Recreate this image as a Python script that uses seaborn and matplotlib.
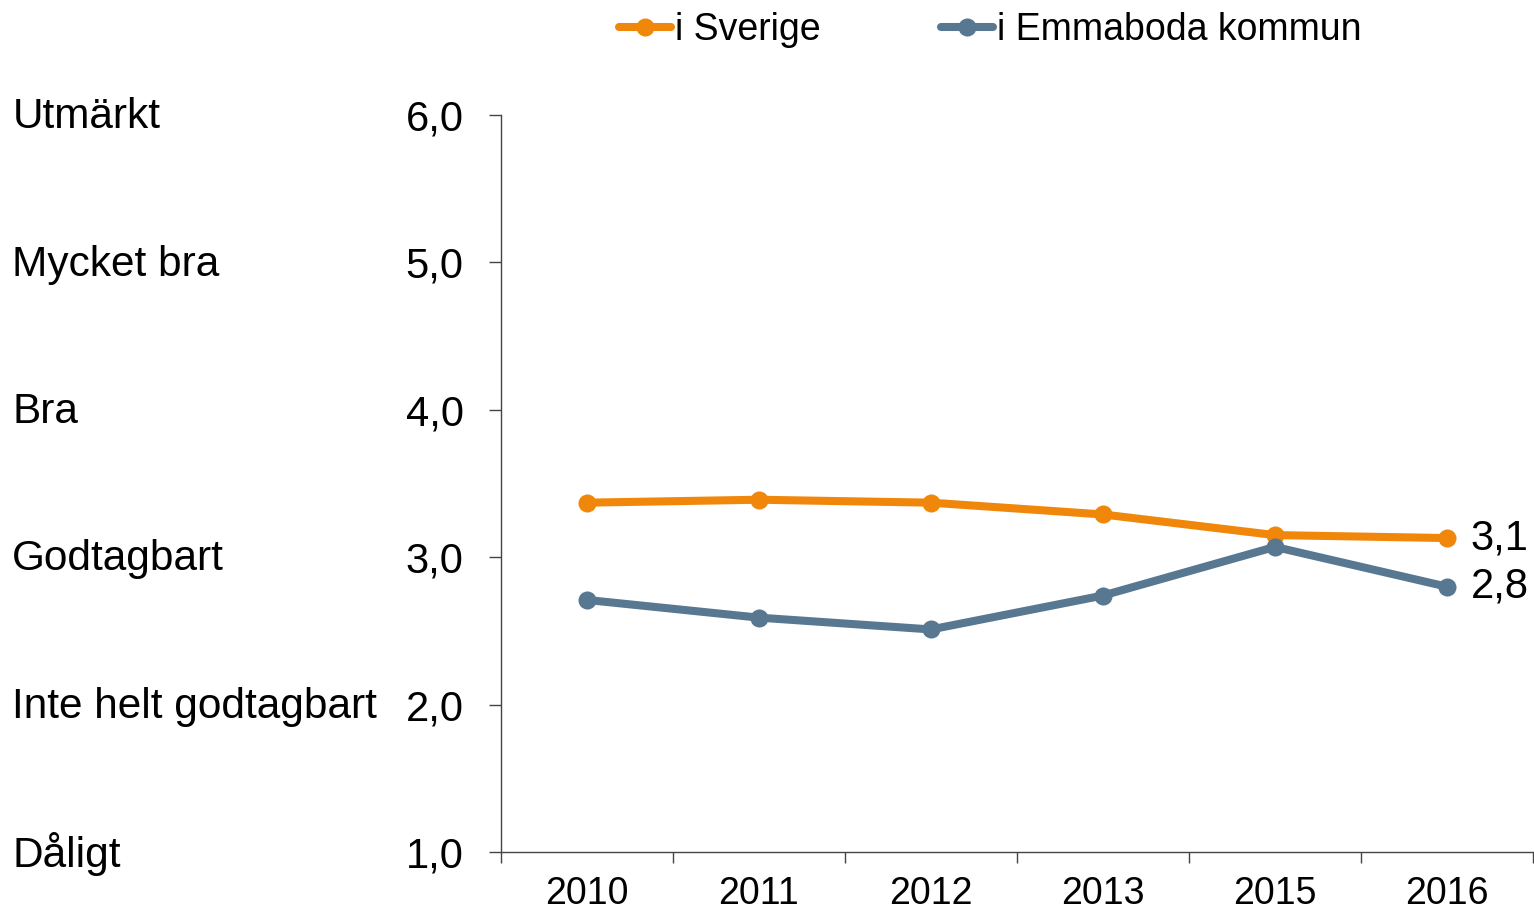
import pandas as pd
import numpy as np
import matplotlib
matplotlib.use("Agg")
import matplotlib.pyplot as plt
import matplotlib.transforms as mtransforms
import seaborn as sns

# data
years = ["2010", "2011", "2012", "2013", "2015", "2016"]
sverige = [3.37, 3.39, 3.37, 3.29, 3.15, 3.13]
emmaboda = [2.71, 2.59, 2.51, 2.74, 3.07, 2.80]
series_names = ["i Sverige", "i Emmaboda kommun"]
scale_values = [6, 5, 4, 3, 2, 1]
scale_labels = ["Utmärkt", "Mycket bra", "Bra", "Godtagbart", "Inte helt godtagbart", "Dåligt"]

colors = {"i Sverige": "#F0870A", "i Emmaboda kommun": "#587790"}

df = pd.DataFrame({
    "year": years * 2,
    "value": sverige + emmaboda,
    "series": [series_names[0]] * len(years) + [series_names[1]] * len(years),
})

sns.set_style("white")
plt.rcParams["font.family"] = ["Liberation Sans", "DejaVu Sans"]
plt.rcParams["text.color"] = "black"
plt.rcParams["xtick.color"] = "black"
plt.rcParams["ytick.color"] = "black"

FS = 30.5

fig = plt.figure(figsize=(15.34, 9.14), dpi=100)
ax = fig.add_axes([0.3266, 0.0678, 0.6727, 0.8064])

sns.lineplot(
    data=df, x="year", y="value", hue="series", palette=colors,
    marker="o", markersize=13, markeredgewidth=0, linewidth=5.8,
    sort=False, ax=ax, legend=False,
)

ax.set_ylim(1, 6)
ax.set_xlim(-0.5, len(years) - 0.5)
ax.set_xlabel("")
ax.set_ylabel("")

# y axis
ax.set_yticks(scale_values)
ax.set_yticklabels([f"{v:.1f}".replace(".", ",") for v in scale_values])
ax.tick_params(axis="y", direction="out", length=9, width=1, color="#444444",
               pad=18, labelsize=30, labelcolor="black", left=True)

# x axis: tick marks at boundaries, labels at centres
ax.set_xticks(np.arange(-0.5, len(years)), labels=[""] * (len(years) + 1))
ax.set_xticks(np.arange(len(years)), labels=years, minor=True)
ax.tick_params(axis="x", which="major", direction="out", length=8, width=1,
               color="#444444", bottom=True)
ax.tick_params(axis="x", which="minor", length=0, pad=17, labelsize=27,
               labelcolor="black")

for side in ["top", "right"]:
    ax.spines[side].set_visible(False)
for side in ["left", "bottom"]:
    ax.spines[side].set_color("#444444")
    ax.spines[side].set_linewidth(1)

# scale descriptions on the far left
trans = mtransforms.blended_transform_factory(fig.transFigure, ax.transData)
for v, lab in zip(scale_values, scale_labels):
    ax.text(0.008, v - 0.015, lab, transform=trans, ha="left", va="center",
            fontsize=FS, color="black", clip_on=False)

# end value labels
for name, vals in zip(series_names, [sverige, emmaboda]):
    ax.annotate(f"{vals[-1]:.1f}".replace(".", ","), xy=(len(years) - 1, vals[-1]),
                xytext=(17, 0), textcoords="offset points", ha="left", va="center",
                fontsize=30, color="black", annotation_clip=False)

# legend
handles = [plt.Line2D([], [], color=colors[n], linewidth=5.8, marker="o",
                      markersize=13, markeredgewidth=0) for n in series_names]
fig.legend(handles, series_names, loc="upper center", bbox_to_anchor=(0.6455, 1.024),
           ncol=2, frameon=False, fontsize=27, handlelength=1.4,
           handletextpad=0.1, columnspacing=3.2)

fig.savefig("out.png", dpi=100)
